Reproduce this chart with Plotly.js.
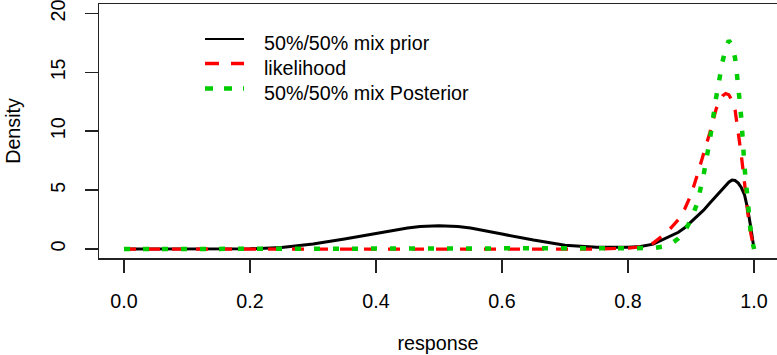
<!DOCTYPE html>
<html>
<head>
<meta charset="utf-8">
<script src="https://cdn.plot.ly/plotly-3.0.1.min.js"></script>
<style>
  html, body { margin: 0; padding: 0; background: #fff; }
  #chart { width: 777px; height: 355px; }
</style>
</head>
<body>
<div id="chart"></div>
<script>
// x grid (response)
const response = [0, 0.05, 0.1, 0.15, 0.2, 0.25, 0.3, 0.35, 0.4, 0.45, 0.47, 0.5, 0.53, 0.55, 0.6, 0.65, 0.7, 0.75, 0.8,
  0.82, 0.84, 0.86, 0.87, 0.88, 0.89, 0.9, 0.91, 0.92, 0.93, 0.94, 0.945, 0.95, 0.955, 0.96, 0.965, 0.97,
  0.975, 0.98, 0.985, 0.99, 0.995, 1.0];

// 50%/50% mix prior density
const priorDensity = [0, 0, 0, 0, 0.02, 0.13, 0.43, 0.86, 1.35, 1.78, 1.92, 1.97, 1.92, 1.78, 1.27, 0.76, 0.32, 0.15, 0.15,
  0.22, 0.42, 0.9, 1.15, 1.42, 1.8, 2.3, 2.8, 3.3, 3.9, 4.5, 4.8, 5.15, 5.45, 5.68, 5.85, 5.82,
  5.6, 5.2, 4.6, 3.4, 1.8, 0];

// likelihood
const likelihood = [0, 0, 0, 0, 0, 0, 0, 0, 0, 0, 0, 0, 0, 0, 0, 0, 0, 0, 0.08,
  0.2, 0.5, 1.35, 1.9, 2.5, 3.4, 4.6, 6.3, 8.0, 9.9, 11.9, 12.6, 13.0, 13.2, 13.1, 12.6, 11.8,
  10.0, 7.9, 5.6, 3.1, 1.3, 0];

// 50%/50% mix posterior density
const posteriorDensity = [0, 0, 0, 0, 0, 0, 0, 0, 0, 0, 0, 0, 0, 0, 0, 0, 0, 0, 0,
  0, 0.08, 0.25, 0.5, 0.9, 1.5, 2.5, 3.9, 6.3, 9.3, 12.9, 14.6, 15.9, 17.0, 17.7, 17.3, 16.2,
  13.8, 11.0, 6.9, 3.7, 1.3, 0];

const xTicks = [0, 0.2, 0.4, 0.6, 0.8, 1.0];
const xTickLabels = ["0.0", "0.2", "0.4", "0.6", "0.8", "1.0"];
const yTicks = [0, 5, 10, 15, 20];
const yTickLabels = ["0", "5", "10", "15", "20"];
const seriesNames = ["50%/50% mix prior", "likelihood", "50%/50% mix Posterior"];

const FONT = "Liberation Sans, Arial, sans-serif";
const FS = 19.7;

const traces = [
  { x: response, y: priorDensity, name: seriesNames[0], mode: "lines",
    line: { color: "#000000", width: 3 } },
  { x: response, y: likelihood, name: seriesNames[1], mode: "lines",
    line: { color: "#ff0000", width: 3.3, dash: "12px,12px" } },
  { x: response, y: posteriorDensity, name: seriesNames[2], mode: "lines",
    line: { color: "#00cd00", width: 4.5, dash: "6px,13px" } }
];

// layout geometry (pixels)
const W = 777, H = 355, ML = 99, MR = 0, MT = 4, MB = 97;
const PW = W - ML - MR, PH = H - MT - MB;
const px = v => (v - ML) / PW;
const py = v => (H - MB - v) / PH;

// manual legend (R style)
const legendRows = [
  { y: 39, color: "#000000", width: 2, dash: "solid", textY: 43 },
  { y: 63.5, color: "#ff0000", width: 3.5, dash: "14px,12px", textY: 67.5 },
  { y: 88.5, color: "#00cd00", width: 4.5, dash: "8px,11px", textY: 93 }
];
const shapes = legendRows.map(r => ({
  type: "line", xref: "paper", yref: "paper",
  x0: px(205), x1: px(244), y0: py(r.y), y1: py(r.y),
  line: { color: r.color, width: r.width, dash: r.dash }
}));
const annotations = legendRows.map((r, i) => ({
  xref: "paper", yref: "paper", x: px(262), y: py(r.textY),
  xanchor: "left", yanchor: "middle", showarrow: false,
  text: seriesNames[i], font: { family: FONT, size: FS, color: "#000" }
}));

const layout = {
  width: W, height: H,
  margin: { l: ML, r: MR, t: MT, b: MB, pad: 0 },
  paper_bgcolor: "#fff", plot_bgcolor: "#fff",
  showlegend: false,
  font: { family: FONT, size: FS, color: "#000" },
  xaxis: {
    range: [-0.0397, 1.0365], tickmode: "array", tickvals: xTicks, ticktext: xTickLabels,
    showgrid: false, zeroline: false, showline: true, mirror: true,
    linecolor: "#222", linewidth: 1.5, ticks: "outside", ticklen: 13, tickwidth: 1.5, tickcolor: "#222",
    ticklabelstandoff: 12, ticklabeloverflow: "allow",
    tickfont: { family: FONT, size: FS, color: "#000" },
    title: { text: "response", font: { family: FONT, size: FS, color: "#000" }, standoff: 25 }
  },
  yaxis: {
    range: [-0.76, 20.8], tickmode: "array", tickvals: yTicks, ticktext: yTickLabels,
    showgrid: false, zeroline: false, showline: true, mirror: false,
    linecolor: "#222", linewidth: 1.5, ticks: "outside", ticklen: 13, tickwidth: 1.5, tickcolor: "#222",
    tickangle: -90, ticklabelstandoff: 12, ticklabeloverflow: "allow",
    tickfont: { family: FONT, size: FS, color: "#000" },
    title: { text: "Density", font: { family: FONT, size: FS, color: "#000" }, standoff: 20 }
  },
  shapes: shapes,
  annotations: annotations
};

Plotly.newPlot("chart", traces, layout, { staticPlot: true, displayModeBar: false });
</script>
</body>
</html>
